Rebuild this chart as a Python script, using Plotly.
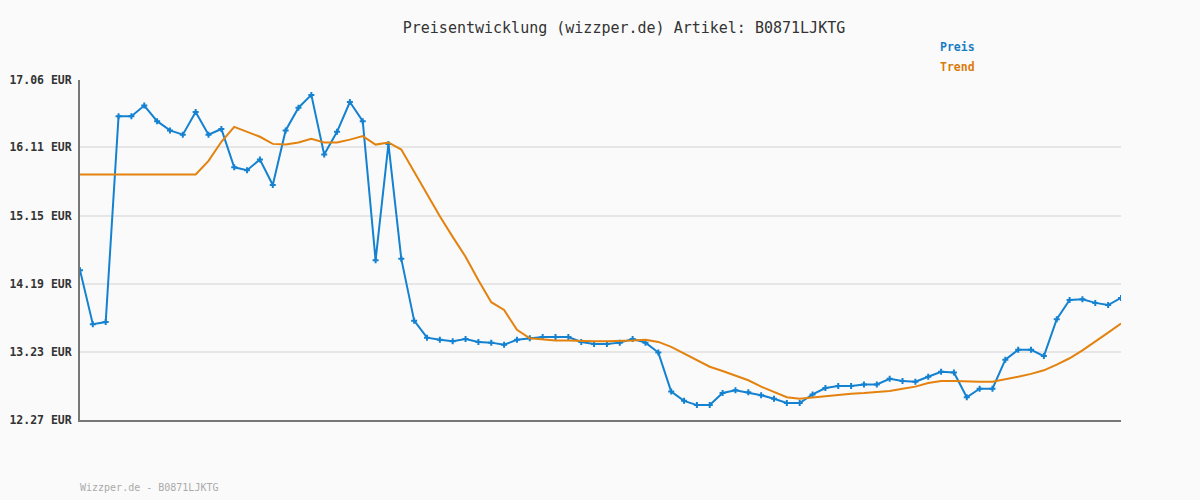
import plotly.graph_objects as go

title_text = "Preisentwicklung (wizzper.de) Artikel: B0871LJKTG"
footer_text = "Wizzper.de - B0871LJKTG"
tick_values = [12.27, 13.23, 14.19, 15.15, 16.11, 17.06]
tick_labels = ["12.27 EUR", "13.23 EUR", "14.19 EUR", "15.15 EUR", "16.11 EUR", "17.06 EUR"]

preis = [14.38, 13.62, 13.65, 16.55, 16.55, 16.70, 16.48, 16.35, 16.29, 16.61,
         16.29, 16.37, 15.83, 15.79, 15.94, 15.58, 16.35, 16.67, 16.85, 16.01,
         16.33, 16.75, 16.48, 14.52, 16.16, 14.54, 13.67, 13.43, 13.40, 13.38,
         13.41, 13.37, 13.36, 13.33, 13.40, 13.42, 13.44, 13.44, 13.44, 13.37,
         13.34, 13.34, 13.36, 13.41, 13.36, 13.22, 12.67, 12.54, 12.48, 12.48,
         12.65, 12.69, 12.66, 12.62, 12.57, 12.51, 12.51, 12.63, 12.72, 12.75,
         12.75, 12.77, 12.77, 12.85, 12.82, 12.81, 12.88, 12.95, 12.94, 12.59,
         12.71, 12.71, 13.12, 13.26, 13.26, 13.17, 13.69, 13.96, 13.97, 13.92,
         13.89, 13.99]

trend = [15.73, 15.73, 15.73, 15.73, 15.73, 15.73, 15.73, 15.73, 15.73, 15.73,
         15.92, 16.19, 16.40, 16.33, 16.26, 16.16, 16.15, 16.18, 16.23, 16.18,
         16.18, 16.22, 16.27, 16.15, 16.18, 16.08, 15.76, 15.46, 15.14, 14.85,
         14.57, 14.24, 13.93, 13.82, 13.54, 13.42, 13.40, 13.39, 13.39, 13.38,
         13.38, 13.38, 13.38, 13.39, 13.40, 13.37, 13.30, 13.21, 13.12, 13.02,
         12.96, 12.90, 12.83, 12.74, 12.66, 12.59, 12.57, 12.59, 12.61, 12.63,
         12.64, 12.65, 12.66, 12.68, 12.71, 12.74, 12.79, 12.82, 12.82, 12.81,
         12.81, 12.81, 12.84, 12.88, 12.92, 12.97, 13.05, 13.14, 13.25, 13.37,
         13.50, 13.63]

x = list(range(len(preis)))

BLUE = "#1482d0"
ORANGE = "#e3820e"
MONO = "DejaVu Sans Mono"

W, H = 1200, 500
L, R, T, B = 80, 79, 80, 80
pw, ph = W - L - R, H - T - B


def px(v):
    return (v - L) / pw


def py(v):
    return 1 - (v - T) / ph


fig = go.Figure()
fig.add_trace(go.Scatter(
    x=x, y=preis, name="Preis", mode="lines+markers",
    line=dict(color=BLUE, width=2),
    marker=dict(symbol="cross", size=5, color=BLUE),
))
fig.add_trace(go.Scatter(
    x=x, y=trend, name="Trend", mode="lines",
    line=dict(color=ORANGE, width=2),
))

fig.update_layout(
    width=W, height=H,
    paper_bgcolor="#fafafa", plot_bgcolor="#fafafa",
    margin=dict(l=L, r=R, t=T, b=B, autoexpand=False),
    showlegend=False,
    title=dict(text=title_text, x=0.52, xanchor="center", y=1 - 28 / H, yanchor="middle",
               font=dict(family=MONO, size=15, color="#333333")),
    xaxis=dict(range=[0, len(preis) - 1], showgrid=False, zeroline=False,
               showticklabels=False, ticks="", showline=True, linecolor="#777777",
               linewidth=2),
    yaxis=dict(range=[12.27, 17.06], tickvals=tick_values,
               ticktext=["<b>%s</b>" % t for t in tick_labels],
               tickfont=dict(family=MONO, size=11.5, color="#333333"),
               showgrid=True, gridcolor="#e6e6e6", gridwidth=2, zeroline=False,
               showline=True, linecolor="#777777", linewidth=2,
               ticks="outside", ticklen=4, tickcolor="rgba(0,0,0,0)"),
    annotations=[
        dict(text="<b>Preis</b>", x=px(938), y=py(47), xref="paper", yref="paper",
             showarrow=False, xanchor="left", yanchor="middle",
             font=dict(family=MONO, size=11.5, color="#1a7cc6")),
        dict(text="<b>Trend</b>", x=px(938), y=py(67), xref="paper", yref="paper",
             showarrow=False, xanchor="left", yanchor="middle",
             font=dict(family=MONO, size=11.5, color="#db7a0c")),
        dict(text=footer_text, x=px(78), y=py(487), xref="paper", yref="paper",
             showarrow=False, xanchor="left", yanchor="middle",
             font=dict(family=MONO, size=10, color="#aaaaaa")),
    ],
)

fig.write_html("out.html", config={"displayModeBar": False},
               post_script="document.body.style.margin='0';")
